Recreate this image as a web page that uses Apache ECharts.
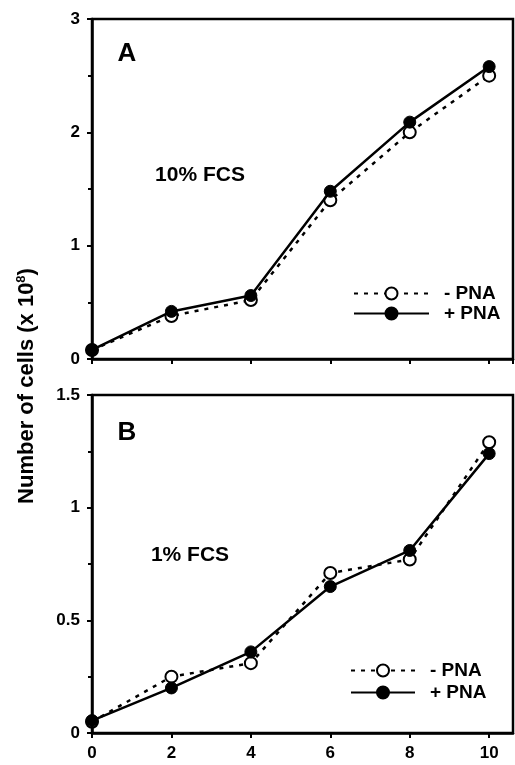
<!DOCTYPE html>
<html><head><meta charset="utf-8">
<script src="https://cdn.jsdelivr.net/npm/echarts@6/dist/echarts.min.js"></script>
<style>html,body{margin:0;padding:0;background:#fff}#c{width:515px;height:765px}</style>
</head><body><div id="c"></div>
<script>
const days = [0, 2, 4, 6, 8, 10];
const topMinus = [0.08, 0.38, 0.52, 1.40, 2.00, 2.50];
const topPlus  = [0.08, 0.42, 0.56, 1.48, 2.09, 2.58];
const botMinus = [0.05, 0.25, 0.31, 0.71, 0.77, 1.29];
const botPlus  = [0.055, 0.20, 0.36, 0.65, 0.81, 1.24];
const legendNames = ['- PNA', '+ PNA'];
const panelLetters = ['A', 'B'];
const panelConds = ['10% FCS', '1% FCS'];

const FONT = "'Liberation Sans', Arial, sans-serif";
const chart = echarts.init(document.getElementById('c'), null, {renderer: 'canvas'});

function xAxis(gi, showLabel) {
  return {
    type: 'value', gridIndex: gi, min: 0, max: 10.6, interval: 2,
    axisLine: {show: true, lineStyle: {color: '#000', width: 2.5}},
    axisTick: {show: true, inside: false, length: 5, lineStyle: {color: '#000', width: 2}},
    axisLabel: {show: showLabel, showMaxLabel: false, margin: 12, color: '#000', fontSize: 17, fontWeight: 'bold', fontFamily: FONT},
    splitLine: {show: false}
  };
}
function yAxis(gi, max, interval) {
  return {
    type: 'value', gridIndex: gi, min: 0, max: max, interval: interval,
    axisLine: {show: true, lineStyle: {color: '#000', width: 2.5}},
    axisTick: {show: true, inside: false, length: 5, lineStyle: {color: '#000', width: 2}},
    minorTick: {show: true, splitNumber: 2, length: 4, lineStyle: {color: '#000', width: 2}},
    axisLabel: {margin: 12, color: '#000', fontSize: 17, fontWeight: 'bold', fontFamily: FONT},
    splitLine: {show: false}
  };
}
function openSeries(gi, vals) {
  return {
    name: legendNames[0], type: 'line', xAxisIndex: gi, yAxisIndex: gi,
    data: days.map((d, i) => [d, vals[i]]),
    symbol: 'circle', symbolSize: 12,
    itemStyle: {color: '#fff', borderColor: '#000', borderWidth: 2},
    lineStyle: {color: '#000', width: 2.5, type: [4, 6]},
    animation: false, z: 2
  };
}
function plusSeries(gi, vals) {
  return {
    name: legendNames[1], type: 'line', xAxisIndex: gi, yAxisIndex: gi,
    data: days.map((d, i) => [d, vals[i]]),
    symbol: 'circle', symbolSize: 12,
    itemStyle: {color: '#000', borderColor: '#000', borderWidth: 1},
    lineStyle: {color: '#000', width: 2.5, type: 'solid'},
    animation: false, z: 3
  };
}
function legend(left, top, w, gap) {
  return {
    orient: 'vertical', left: left, top: top, itemWidth: w, itemHeight: 15, itemGap: gap, padding: 0,
    selectedMode: false, data: legendNames,
    textStyle: {color: '#000', fontSize: 19, fontWeight: 'bold', fontFamily: FONT, padding: [0, 0, 0, 10]}
  };
}
function txt(x, y, s, size) {
  return {type: 'text', x: x, y: y, style: {text: s, fill: '#000', font: 'bold ' + size + 'px ' + FONT, align: 'center', verticalAlign: 'middle'}};
}

chart.setOption({
  backgroundColor: '#fff',
  animation: false,
  grid: [
    {left: 92, right: 2, top: 19, height: 340, show: true, borderColor: '#000', borderWidth: 2.5},
    {left: 92, right: 2, top: 395, height: 338, show: true, borderColor: '#000', borderWidth: 2.5}
  ],
  xAxis: [xAxis(0, false), xAxis(1, true)],
  yAxis: [yAxis(0, 3, 1), yAxis(1, 1.5, 0.5)],
  legend: [legend(353, 284, 75, 1), legend(350, 661, 64, 3)],
  series: [openSeries(0, topMinus), plusSeries(0, topPlus), openSeries(1, botMinus), plusSeries(1, botPlus)],
  graphic: [
    txt(127, 54, panelLetters[0], 26),
    txt(200, 175, panelConds[0], 21),
    txt(127, 433, panelLetters[1], 26),
    txt(190, 555, panelConds[1], 21),
    {type: 'text', x: 27, y: 386, rotation: Math.PI / 2,
     style: {text: '{a|Number of cells (x 10}{s|8}{a|)}', align: 'center', verticalAlign: 'middle', fill: '#000',
       rich: {a: {fontSize: 22, fontWeight: 'bold', fontFamily: FONT, fill: '#000', lineHeight: 24},
              s: {fontSize: 13, fontWeight: 'bold', fontFamily: FONT, fill: '#000', verticalAlign: 'top'}}}}
  ]
});
</script>
</body></html>
